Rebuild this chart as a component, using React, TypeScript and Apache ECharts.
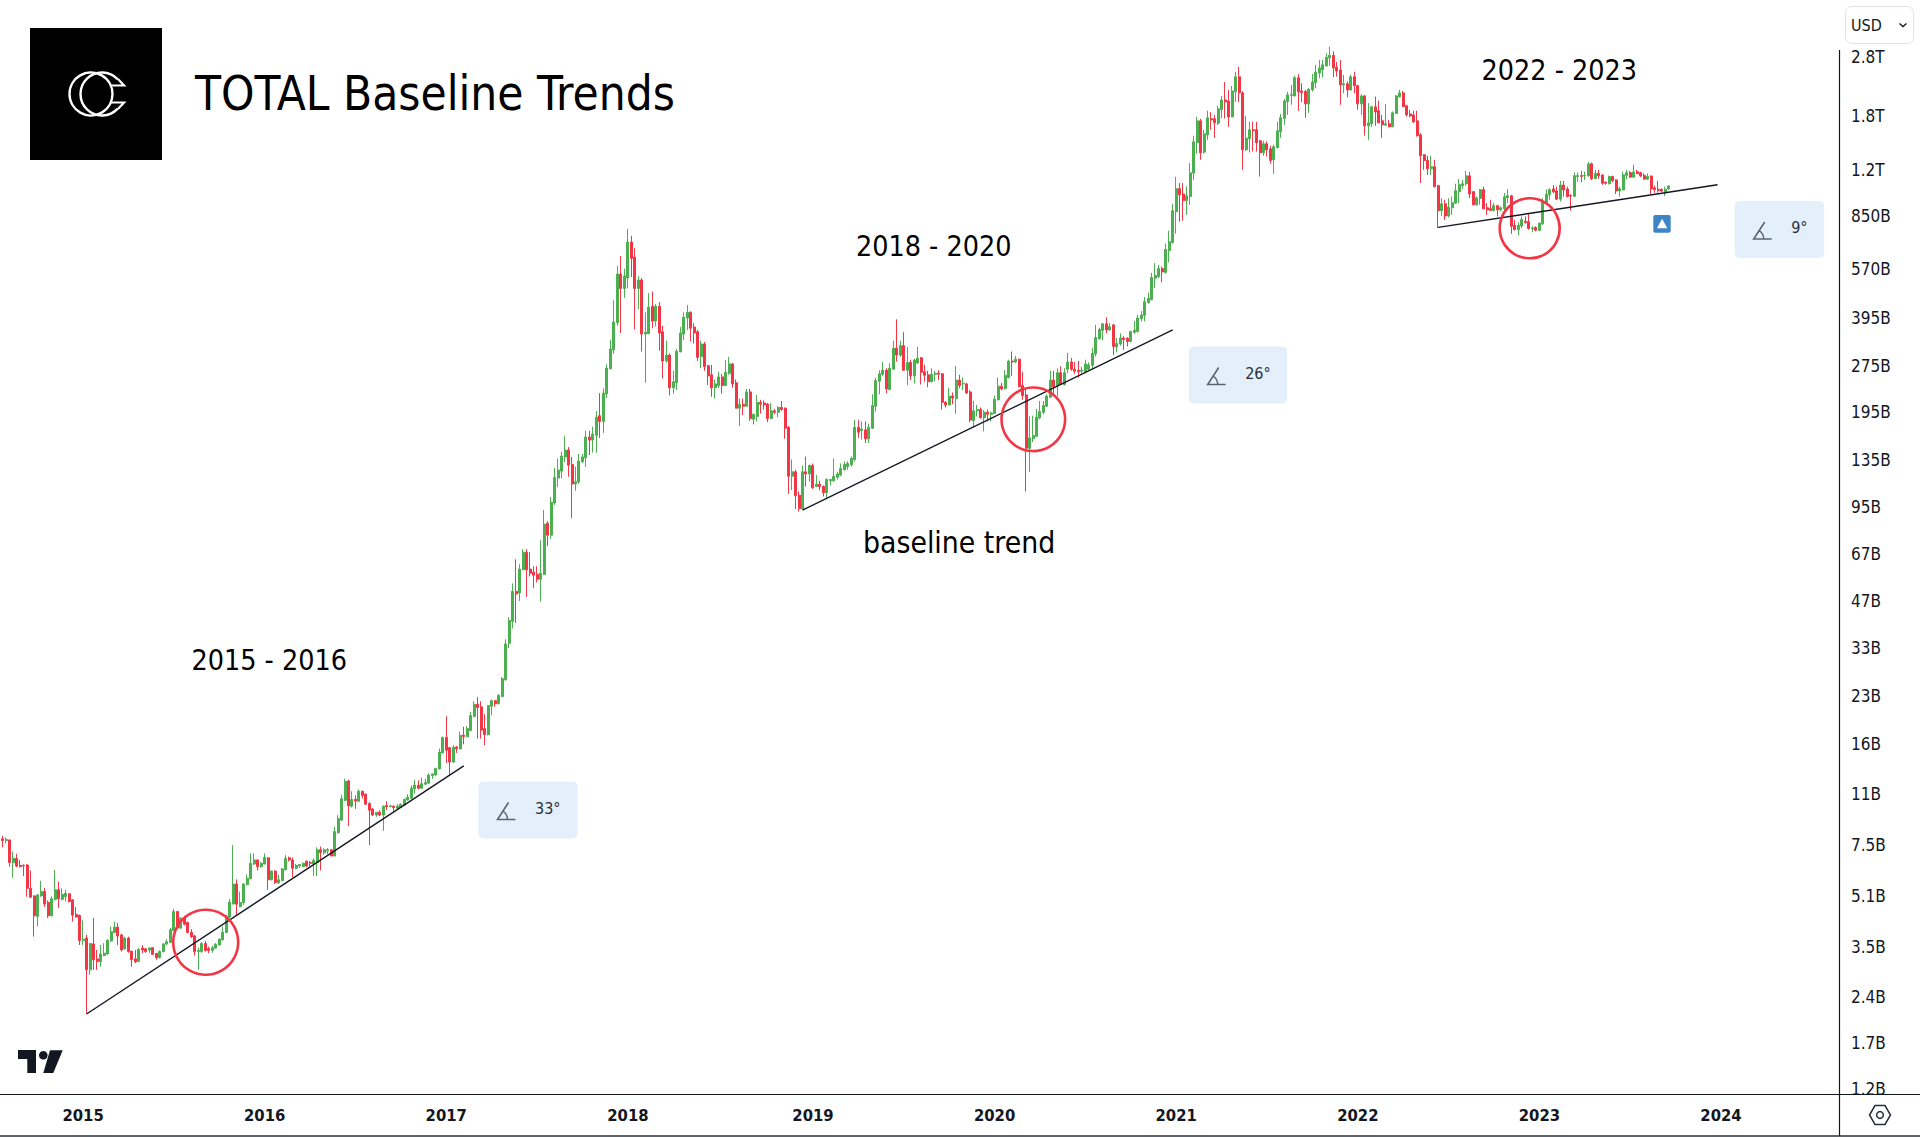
import React, { useEffect, useRef } from "react";
import * as echarts from "echarts";

type Row = number[];

// Weekly candles, billions of USD. Each row: open, close, and the two wick ends.
const ohlc2014to2015: Row[] = [
[7.87,7.75,7.38,8.03],[7.75,7.83,7.6,7.95],[7.79,6.58,6.38,7.83],[6.58,6.79,5.87,7.15],[6.79,6.41,6.35,7.02],[6.44,6.38,6.34,6.71],[6.44,6.41,5.95,6.49],[6.46,5.42,5.09,6.5],[5.42,5.07,5.05,6.2],[5.12,4.41,3.77,5.14],
[4.39,5.16,4.07,5.18],[5.12,5.29,5.09,5.74],[5.29,4.82,4.71,5.43],[4.88,4.41,4.34,4.95],[4.41,5.01,4.39,5.1],[4.99,5.36,4.95,6.22],[5.36,5.01,4.67,5.7],[4.99,5.18,4.95,5.42],[5.09,5.22,4.91,5.36],[5.2,4.91,4.87,5.22],
[4.97,4.43,4.22,4.99],[4.46,4.37,4.35,4.71],[4.42,3.66,3.54,4.45],[3.66,3.7,3.54,4.26],[3.73,2.94,2.11,3.82],[2.94,3.58,2.83,3.59],[3.57,3.17,2.94,4.34],[3.19,3.13,2.94,3.41],[3.12,3.31,3.01,3.54],[3.27,3.33,3.25,3.59],
[3.31,3.66,3.29,3.7],[3.65,3.91,3.63,4.07],[3.89,4.05,3.87,4.22],[4.05,3.79,3.54,4.18],[3.82,3.41,3.37,3.85],[3.44,3.73,3.41,3.77],[3.73,3.37,3.34,3.77],[3.38,3.17,3.01,3.39],[3.19,3.12,3.09,3.41],[3.13,3.43,3.11,3.45],
[3.46,3.41,3.33,3.54],[3.44,3.37,3.34,3.46],[3.41,3.46,3.34,3.48],[3.47,3.3,3.29,3.48],[3.32,3.22,3.17,3.34],[3.22,3.37,3.2,3.4],[3.37,3.57,3.35,3.59],[3.57,3.63,3.53,3.7],[3.61,3.97,3.59,4.02],[3.95,4.55,3.94,4.65],
[4.55,4.02,4.0,4.58],[4.02,4.33,4.0,4.37],[4.34,4.14,4.1,4.41],[4.19,3.89,3.87,4.22],[3.89,3.77,3.73,3.99],[3.79,3.37,3.27,3.82],[3.37,3.4,2.94,3.47],[3.37,3.58,3.34,3.62],[3.58,3.4,3.37,3.65],[3.45,3.4,3.33,3.5],
[3.4,3.47,3.34,3.52],[3.46,3.56,3.44,3.59],[3.54,3.7,3.53,3.72],[3.68,3.9,3.66,4.07],[3.89,4.39,3.87,4.44],[4.37,4.89,4.34,5.0],[4.82,5.6,4.81,7.5],[5.6,4.81,4.44,5.8],[4.73,4.87,4.7,5.29],[4.87,5.6,4.79,5.63],
[5.57,5.85,5.54,6.01],[5.82,6.54,5.8,7.05],[6.51,6.71,6.46,7.05],[6.71,6.38,6.2,6.74],[6.37,6.54,6.34,6.61],
];

const ohlc2016: Row[] = [
[6.51,6.84,6.49,7.05],[6.82,5.78,5.35,6.84],[5.78,6.17,5.75,6.2],[6.17,5.66,5.6,6.2],[5.65,5.78,5.6,6.0],[5.75,6.27,5.71,6.32],[6.23,6.79,6.2,6.96],[6.82,6.71,6.63,6.88],[6.71,6.3,5.9,6.84],[6.3,6.44,6.25,6.51],
[6.41,6.48,6.32,6.51],[6.38,6.54,6.35,6.58],[6.64,6.41,6.35,6.68],[6.58,6.54,6.41,6.66],[6.51,6.68,5.95,6.79],[6.58,7.24,5.95,7.38],[7.24,7.09,6.2,7.42],[7.09,7.24,6.97,7.33],[7.19,7.25,7.0,7.33],[7.24,6.91,6.9,7.28],
[6.91,8.3,6.9,8.6],[8.23,9.16,8.18,9.4],[9.05,10.63,9.0,10.95],[10.5,12.1,10.43,12.35],[12.15,10.08,8.65,12.25],[10.05,10.58,9.95,11.25],[10.58,10.45,9.85,10.9],[10.43,11.25,10.38,11.4],[11.25,10.9,10.65,11.28],[11.0,10.2,10.15,11.05],
[10.25,9.75,7.5,10.35],[9.83,9.4,9.35,9.9],[9.4,9.6,9.28,9.6],[9.6,9.4,9.32,9.75],[9.4,10.05,8.35,10.1],[10.1,10.0,9.75,10.43],[10.03,10.07,9.95,10.15],[10.05,9.95,9.7,10.1],[9.9,10.05,9.85,10.2],[9.97,10.2,9.92,10.25],
[10.12,10.58,10.08,10.63],[10.53,10.75,10.48,11.0],[10.67,11.5,10.63,11.75],[11.45,11.78,11.05,12.25],[11.75,11.5,11.4,12.2],[11.5,11.9,11.45,12.45],[11.85,12.0,11.82,12.35],[11.95,12.7,11.9,12.85],[12.65,12.8,12.35,12.85],[12.7,13.35,12.65,13.4],
[13.3,15.1,13.25,15.5],[15.0,16.85,14.95,16.95],
];

const ohlc2017: Row[] = [
[16.85,15.3,13.9,19.75],[15.6,14.0,12.7,15.7],[14.0,15.65,13.9,15.9],[15.65,15.45,15.0,15.8],[15.45,17.1,15.4,17.6],[17.15,16.95,16.0,18.25],[16.95,18.0,16.85,18.35],[17.75,19.85,17.65,20.4],[19.7,21.6,19.6,22.1],[21.6,21.1,16.7,22.8],
[21.2,17.8,16.7,22.1],[18.0,17.2,15.9,20.05],[17.2,21.4,17.1,21.45],[21.3,22.2,19.9,22.4],[22.2,21.7,21.2,22.3],[21.7,23.1,21.6,23.3],[22.9,26.2,22.85,26.5],[26.0,34.0,25.8,35.2],[34.2,40.6,33.0,41.6],[40.3,50.5,38.2,53.6],
[50.5,49.5,39.8,64.3],[49.9,59.7,47,61.9],[59.4,67.8,59.2,69.3],[67.8,59.4,48.4,69.3],[59.7,57.9,56.5,67.8],[58.3,57,51.8,61],[57.4,55.3,54,61],[55.3,57.9,46.8,74.2],[57.4,83.7,57,93],[84.3,77,70.9,85.6],
[77,98.7,74.9,102.6],[98.1,118.8,96.6,127.5],[118.3,125.6,110.5,137],[124.6,139.6,118,144],[138.7,146,133.3,162],[146,130.4,119.4,149.3],[131,113.1,87.5,138.7],[113.1,115,107.5,129],[114.8,134.5,113.1,141.7],[133.9,138.7,132.4,141.7],
[137.7,161,128.6,169],[161,157.4,140.6,169],[157.4,164.7,143.4,174],[163,187,143,195.5],[189,181,160,224],[181,224,166,232],[223,270,216,278],[269,312,268,334],[310,382,301,450],[380,548,372,582],
[548,492,352,627],[492,540,458,570],
];

const ohlc2018: Row[] = [
[532,697,492,769],[697,617,536,730],[622,492,362,666],[492,524,421,540],[524,349,306,532],[349,354,242,411],[350,427,349,475],[430,385,365,480],[385,430,370,437],[430,352,308,444],
[355,285,250,371],[285,298,281,332],[298,233,220,302],[233,244,223,265],[242,307,229,312],[305,352,305,368],[349,396,334,411],[394,411,360,434],[411,365,330,414],[368,352,325,379],
[355,293,285,360],[295,324,270,332],[324,273,265,329],[275,255,238,277],[257,233,218,277],[233,240,215,248],[237,253,233,263],[253,237,223,259],[237,262,237,287],[260,279,257,294],
[279,240,233,281],[242,200,200,248],[200,206,175,215],[206,203,190,215],[203,226,202,231],[226,185,182,231],[184,191,177,192],[188,209,181,221],[209,206,192,213],[208,205,198,212],
[206,185,180,208],[185,196,184,208],[196,194,191,199],[194,201,187,203],[201,198,196,211],[200,172,159,201],[173,120,105,175],[120,124,108,136],[124,103.6,93.8,126],[104,94,92,107],
[94,124,93.3,130],[124,122,111,139],
];

const ohlc2019: Row[] = [
[122,130,115,131],[130,110,109,132],[111,113,111,121],[113,111,108,116],[111,106,103,112],[106,117,102,118],[116,117,112,117.5],[116,120,115,137],[119,122,117,124],[121,127,120,132],
[126,131,125,134],[129,132,126,134],[131,137,129,139],[136,173,134,183],[173,167,160,183],[169,171,158,181],[170,159,154,181],[159,173,154,178],[172,204,171,222],[203,246,195,251],
[245,259,222,266],[258,266,255,283],[266,231,224,270],[230,270,229,280],[268,314,268,332],[314,298,284,390],[298,320,294,332],[320,266,265,354],[266,282,238,317],[282,255,247,288],
[255,287,241,290],[281,291,279,317],[292,262,239,294],[263,256,244,277],[257,244,234,265],[244,258,243,270],[258,260,245,265],[260,258,247,266],[259,209,198,260],[209,205,201,211],
[205,219,204,233],[219,216,206,225],[215,247,192,275],[247,237,232,257],[240,241,229,252],[240,224,223,242],[226,183,180,229],[182,196,174,211],[196,198,188,205],[198,186,185,201],
[186,194,168,197],[194,191,181,198],
];

const ohlc2020: Row[] = [
[191,193,181,195],[192,214,192,220],[213,236,212,252],[236,231,229,242],[232,256,230,266],[252,285,250,288],[285,283,255,306],[283,289,281,296],[289,235,234,290],[237,220,213,262],
[221,148,107,230],[148,160,124,188],[159,163,155,189],[162,187,161,199],[186,195,184,211],[194,204,191,211],[203,219,202,222],[217,247,216,265],[247,235,219,265],[237,261,219,270],
[261,239,238,274],[239,261,237,270],[268,283,260,303],[283,268,265,292],[268,264,259,283],[266,263,252,285],[264,266,259,273],[263,279,262,288],[268,277,266,282],[276,302,268,314],
[301,340,295,374],[337,361,335,366],[359,377,333,379],[377,360,351,396],[360,369,358,379],[374,318,298,377],[317,325,304,339],[324,339,320,351],[339,335,310,343],[338,330,318,341],
[330,356,328,358],[354,359,349,385],[356,394,353,403],[392,403,384,415],[402,445,384,461],[442,456,439,476],[452,534,450,553],[531,542,494,595],[538,571,532,587],[571,557,515,580],
[555,659,550,689],[654,699,598,759],
];

const ohlc2021: Row[] = [
[694,882,689,929],[875,1041,742,1138],[1041,994,812,1086],[1000,951,818,1086],[951,987,855,1060],[982,1173,922,1261],[1170,1480,1112,1550],[1473,1733,1353,1785],[1733,1363,1293,1760],[1370,1572,1353,1620],
[1560,1773,1503,1870],[1760,1745,1620,1850],[1760,1708,1525,1810],[1703,1897,1680,1940],[1887,2028,1768,2090],[2028,1998,1765,2320],[2013,1785,1657,2187],[1785,2170,1780,2254],[2155,2412,2000,2503],[2412,2138,1995,2600],
[2138,1394,1200,2165],[1394,1522,1383,1798],[1515,1620,1367,1720],[1620,1610,1376,1720],[1620,1470,1376,1720],[1492,1363,1140,1503],[1363,1458,1333,1492],[1458,1394,1326,1484],[1404,1287,1255,1437],[1293,1426,1164,1447],
[1417,1608,1410,1720],[1597,1773,1525,1826],[1765,2013,1680,2044],[2005,2105,1812,2155],[2100,2110,1955,2270],[2090,2395,2085,2430],[2395,2155,1868,2465],[2170,2145,1995,2300],[2160,1970,1773,2187],[1965,2197,1840,2215],
[2187,2320,2160,2465],[2310,2497,2215,2640],[2485,2580,2387,2736],[2542,2640,2400,2736],[2620,2793,2605,2880],[2780,2836,2620,3026],[2836,2580,2405,2920],[2590,2520,2417,2695],[2540,2270,1955,2736],[2270,2290,2133,2447],
[2290,2187,2070,2330],[2187,2412,2175,2447],[2412,2258,2133,2503],
];

const ohlc2022: Row[] = [
[2258,1970,1883,2270],[1970,2090,1812,2117],[2090,1670,1550,2105],[1670,1707,1503,1980],[1695,1925,1655,1940],[1925,1853,1670,2080],[1868,1707,1703,2015],[1733,1682,1525,1812],[1678,1695,1674,1970],[1695,1657,1653,1745],
[1657,1840,1653,1860],[1830,2090,1830,2105],[2075,2138,2065,2187],[2138,1930,1920,2170],[1940,1812,1790,1955],[1826,1798,1780,1883],[1812,1720,1703,1870],[1733,1550,1540,1870],[1560,1333,1086,1580],[1343,1287,1200,1350],
[1287,1210,1155,1333],[1210,1228,1155,1333],[1228,1057,1050,1293],[1065,882,775,1072],[882,929,848,968],[929,848,823,958],[848,905,838,968],[902,937,855,982],[934,1025,929,1080],[1018,1072,934,1120],
[1065,1080,1040,1112],[1080,1146,1065,1190],[1146,1000,970,1180],[1018,922,920,1018],[922,971,916,982],[968,1033,922,1040],[1033,895,893,1056],[902,888,855,934],[895,884,882,958],[884,916,877,934],
[916,888,845,922],[888,902,877,911],[895,980,888,1008],[973,987,934,1038],[987,785,742,994],[789,765,761,823],[765,790,733,808],[787,825,775,845],[815,808,800,845],[812,772,765,865],
[770,775,750,785],[778,762,755,785],
];

const ohlc2023: Row[] = [
[761,803,757,807],[799,945,793,969],[938,999,933,1036],[997,1033,957,1044],[1039,1016,1006,1070],[1023,962,957,1057],[962,1070,945,1103],[1070,1031,981,1103],[1039,981,976,1057],[991,986,883,996],
[983,1148,981,1177],[1140,1148,1095,1177],[1148,1142,1092,1190],[1145,1150,1110,1183],[1145,1253,1140,1273],[1256,1121,1110,1266],[1123,1168,1118,1198],[1168,1148,1121,1198],[1153,1085,1072,1160],[1093,1085,1072,1098],
[1080,1140,1075,1148],[1140,1106,1093,1148],[1112,1023,1000,1118],[1023,1041,981,1057],[1031,1155,1029,1183],[1150,1174,1118,1198],[1174,1135,1130,1190],[1135,1180,1132,1245],[1183,1166,1160,1198],[1174,1145,1135,1183],
[1150,1118,1116,1168],[1118,1142,1113,1168],[1145,1039,1000,1148],[1047,1034,1010,1065],[1036,1026,1010,1103],[1034,1023,1016,1044],[1010,1036,985,1057],[1039,1062,1031,1068],
];

const yTicks = [2800,1800,1200,850,570,395,275,195,135,95,67,47,33,23,16,11,7.5,5.1,3.5,2.4,1.7,1.2];

// [week index, value in billions] of each baseline's two ends
const baseline2015: [number, number][] = [[24, 2.108], [132, 13.6]];
const baseline2018: [number, number][] = [[229, 93.0], [335, 360]];
const baseline2022: [number, number][] = [[411, 778.5], [491, 1072]];

const annotations = [
  { text: "2015 - 2016", x: 191.5, y: 660, size: 28.4 },
  { text: "2018 - 2020", x: 856, y: 246, size: 28.4 },
  { text: "baseline trend", x: 863, y: 542, size: 29.8 },
  { text: "2022 - 2023", x: 1481.6, y: 70, size: 28.4 },
];
const angleBoxes = [
  { text: "33°", x: 478.5, y: 781.5, w: 99, h: 57 },
  { text: "26°", x: 1188.7, y: 346.5, w: 98.5, h: 57 },
  { text: "9°", x: 1734.7, y: 201, w: 89.5, h: 57 },
];
const rings = [
  { cx: 205.7, cy: 942.3, r: 32.5 },
  { cx: 1033.3, cy: 419.3, r: 31.8 },
  { cx: 1529.7, cy: 228.3, r: 30 },
];

const START = Date.UTC(2014, 6, 28);
const WEEK = 7 * 24 * 3600 * 1000;
const SLOTS = 526;
const dates: string[] = [];
for (let i = 0; i < SLOTS; i++) dates.push(new Date(START + i * WEEK).toISOString().slice(0, 10));

const FONT = '"DejaVu Sans Condensed", "DejaVu Sans", sans-serif';
const RED = "#f23645";
const GREEN = "#4caf50";

function fmt(v: number) {
  return v >= 1000 ? `${v / 1000}T` : `${v}B`;
}

export default function App() {
  const ref = useRef<HTMLDivElement>(null);
  useEffect(() => {
    document.body.style.margin = "0";
    const chart = echarts.init(ref.current!, undefined, { renderer: "svg" });
    const rows = [...ohlc2014to2015, ...ohlc2016, ...ohlc2017, ...ohlc2018, ...ohlc2019, ...ohlc2020, ...ohlc2021, ...ohlc2022, ...ohlc2023];
    const candles = rows.map((r) => [r[0], r[1], Math.min(...r), Math.max(...r)]);
    const isYearStart = (i: number) => i > 0 && dates[i].slice(0, 4) !== dates[i - 1].slice(0, 4);

    const graphic: any[] = [
      { type: "rect", z: 50, shape: { x: 1840, y: 1094.5, width: 80, height: 40 }, style: { fill: "#fff" } },
      { type: "line", z: 60, shape: { x1: 0, y1: 1094.5, x2: 1920, y2: 1094.5 }, style: { stroke: "#131722", lineWidth: 1.2 } },
      { type: "line", z: 60, shape: { x1: 1839.5, y1: 50, x2: 1839.5, y2: 1136 }, style: { stroke: "#131722", lineWidth: 1.2 } },
      { type: "line", z: 60, shape: { x1: 0, y1: 1136, x2: 1920, y2: 1136 }, style: { stroke: "#2a2e39", lineWidth: 1.5 } },
      // brand square and title
      { type: "rect", z: 60, shape: { x: 30, y: 28, width: 132, height: 132 }, style: { fill: "#000" } },
      { type: "circle", z: 61, shape: { cx: 91, cy: 94, r: 21.5 }, style: { fill: "none", stroke: "#fff", lineWidth: 2.4 } },
      { type: "arc", z: 61, shape: { cx: 102, cy: 94, r: 21.5, startAngle: 0.75, endAngle: Math.PI * 2 - 0.75, clockwise: true }, style: { fill: "none", stroke: "#fff", lineWidth: 2.4 } },
      { type: "polyline", z: 61, shape: { points: [[118, 79], [124, 85.5], [111, 85.5]] }, style: { fill: "none", stroke: "#fff", lineWidth: 2.2 } },
      { type: "polyline", z: 61, shape: { points: [[118, 109], [124, 102.5], [111, 102.5]] }, style: { fill: "none", stroke: "#fff", lineWidth: 2.2 } },
      { type: "text", z: 61, style: { text: "TOTAL Baseline Trends", x: 195, y: 93.5, font: `47.3px ${FONT}`, fill: "#000", textVerticalAlign: "middle" } },
      // chart-library mark
      { type: "polygon", z: 61, shape: { points: [[18, 1050], [36, 1050], [36, 1073], [27.3, 1073], [27.3, 1059], [18, 1059]] }, style: { fill: "#131722" } },
      { type: "circle", z: 61, shape: { cx: 43.3, cy: 1055.3, r: 4.3 }, style: { fill: "#131722" } },
      { type: "polygon", z: 61, shape: { points: [[50, 1050.3], [62.7, 1050.3], [53.3, 1073], [43.3, 1073]] }, style: { fill: "#131722" } },
      // currency button
      { type: "rect", z: 61, shape: { x: 1845.5, y: 6.5, width: 68, height: 37, r: 6 }, style: { fill: "#fff", stroke: "#e0e3eb", lineWidth: 1 } },
      { type: "text", z: 62, style: { text: "USD", x: 1851, y: 25, font: `16px ${FONT}`, fill: "#131722", textVerticalAlign: "middle" } },
      { type: "polyline", z: 62, shape: { points: [[1899.5, 23.5], [1903, 26.5], [1906.5, 23.5]] }, style: { fill: "none", stroke: "#131722", lineWidth: 1.4 } },
      // settings hexagon
      { type: "polygon", z: 62, shape: { points: [[1869.5, 1115], [1875, 1105.5], [1885, 1105.5], [1890.5, 1115], [1885, 1124.5], [1875, 1124.5]] }, style: { fill: "none", stroke: "#2a2e39", lineWidth: 1.5 } },
      { type: "circle", z: 62, shape: { cx: 1880, cy: 1115, r: 3.4 }, style: { fill: "none", stroke: "#2a2e39", lineWidth: 1.5 } },
      // arrow badge
      { type: "rect", z: 61, shape: { x: 1653.3, y: 215, width: 17.4, height: 17.7, r: 2 }, style: { fill: "#3d85c6" } },
      { type: "polygon", z: 62, shape: { points: [[1657, 228.3], [1667.3, 228.3], [1662.1, 218.7]] }, style: { fill: "#fff" } },
    ];
    for (const t of annotations) {
      graphic.push({ type: "text", z: 61, style: { text: t.text, x: t.x, y: t.y, font: `${t.size}px ${FONT}`, fill: "#000", textVerticalAlign: "middle" } });
    }
    for (const r of rings) {
      graphic.push({ type: "circle", z: 55, shape: r, style: { fill: "none", stroke: RED, lineWidth: 2.6 } });
    }
    for (const b of angleBoxes) {
      const ix = b.x + 19;
      const iy = b.y + 38;
      graphic.push(
        { type: "rect", z: 55, shape: { x: b.x, y: b.y, width: b.w, height: b.h, r: 5 }, style: { fill: "#e3f0fb" } },
        { type: "polyline", z: 56, shape: { points: [[ix + 11, iy - 17], [ix, iy], [ix + 18, iy]] }, style: { fill: "none", stroke: "#5d6470", lineWidth: 1.6 } },
        { type: "arc", z: 56, shape: { cx: ix, cy: iy, r: 10, startAngle: -1.0, endAngle: 0, clockwise: true }, style: { fill: "none", stroke: "#5d6470", lineWidth: 1.4 } },
        { type: "text", z: 56, style: { text: b.text, x: b.x + 56.5, y: b.y + 26.5, font: `16px ${FONT}`, fill: "#2a2e39", textVerticalAlign: "middle" } },
      );
    }

    const baselineSeries = (data: [number, number][]) => ({
      type: "line",
      data,
      symbol: "none",
      silent: true,
      z: 5,
      clip: false,
      lineStyle: { color: "#131722", width: 1.4 },
    });

    chart.setOption({
      animation: false,
      backgroundColor: "#fff",
      grid: { left: 1, top: 0, width: 1837, bottom: 43 },
      tooltip: { show: false },
      xAxis: {
        type: "category",
        data: dates,
        boundaryGap: true,
        axisLine: { show: false },
        axisTick: { show: false },
        splitLine: { show: false },
        axisLabel: {
          interval: (i: number) => isYearStart(i),
          formatter: (v: string) => v.slice(0, 4),
          margin: 12.5,
          fontFamily: FONT,
          fontSize: 16.5,
          fontWeight: "bold",
          color: "#131722",
          hideOverlap: false,
        },
      },
      yAxis: {
        type: "log",
        logBase: 10,
        position: "right",
        min: 1.1556,
        max: 4297,
        axisLine: { show: false },
        axisTick: { show: false },
        splitLine: { show: false },
        minorTick: { show: false },
        minorSplitLine: { show: false },
        axisLabel: {
          customValues: yTicks,
          formatter: (v: number) => fmt(v),
          margin: 13,
          align: "left",
          fontFamily: FONT,
          fontSize: 17,
          color: "#131722",
          hideOverlap: false,
        },
      },
      series: [
        {
          type: "candlestick",
          data: candles,
          barWidth: 2.5,
          clip: false,
          itemStyle: { color: GREEN, color0: RED, borderColor: GREEN, borderColor0: RED, borderWidth: 1 },
          z: 3,
        },
        baselineSeries(baseline2015),
        baselineSeries(baseline2018),
        baselineSeries(baseline2022),
      ],
      graphic,
    });
    return () => chart.dispose();
  }, []);
  return (
    <div style={{ position: "fixed", left: 0, top: 0, width: 1920, height: 1137 }}>
      <div ref={ref} style={{ width: 1920, height: 1137 }} />
    </div>
  );
}
